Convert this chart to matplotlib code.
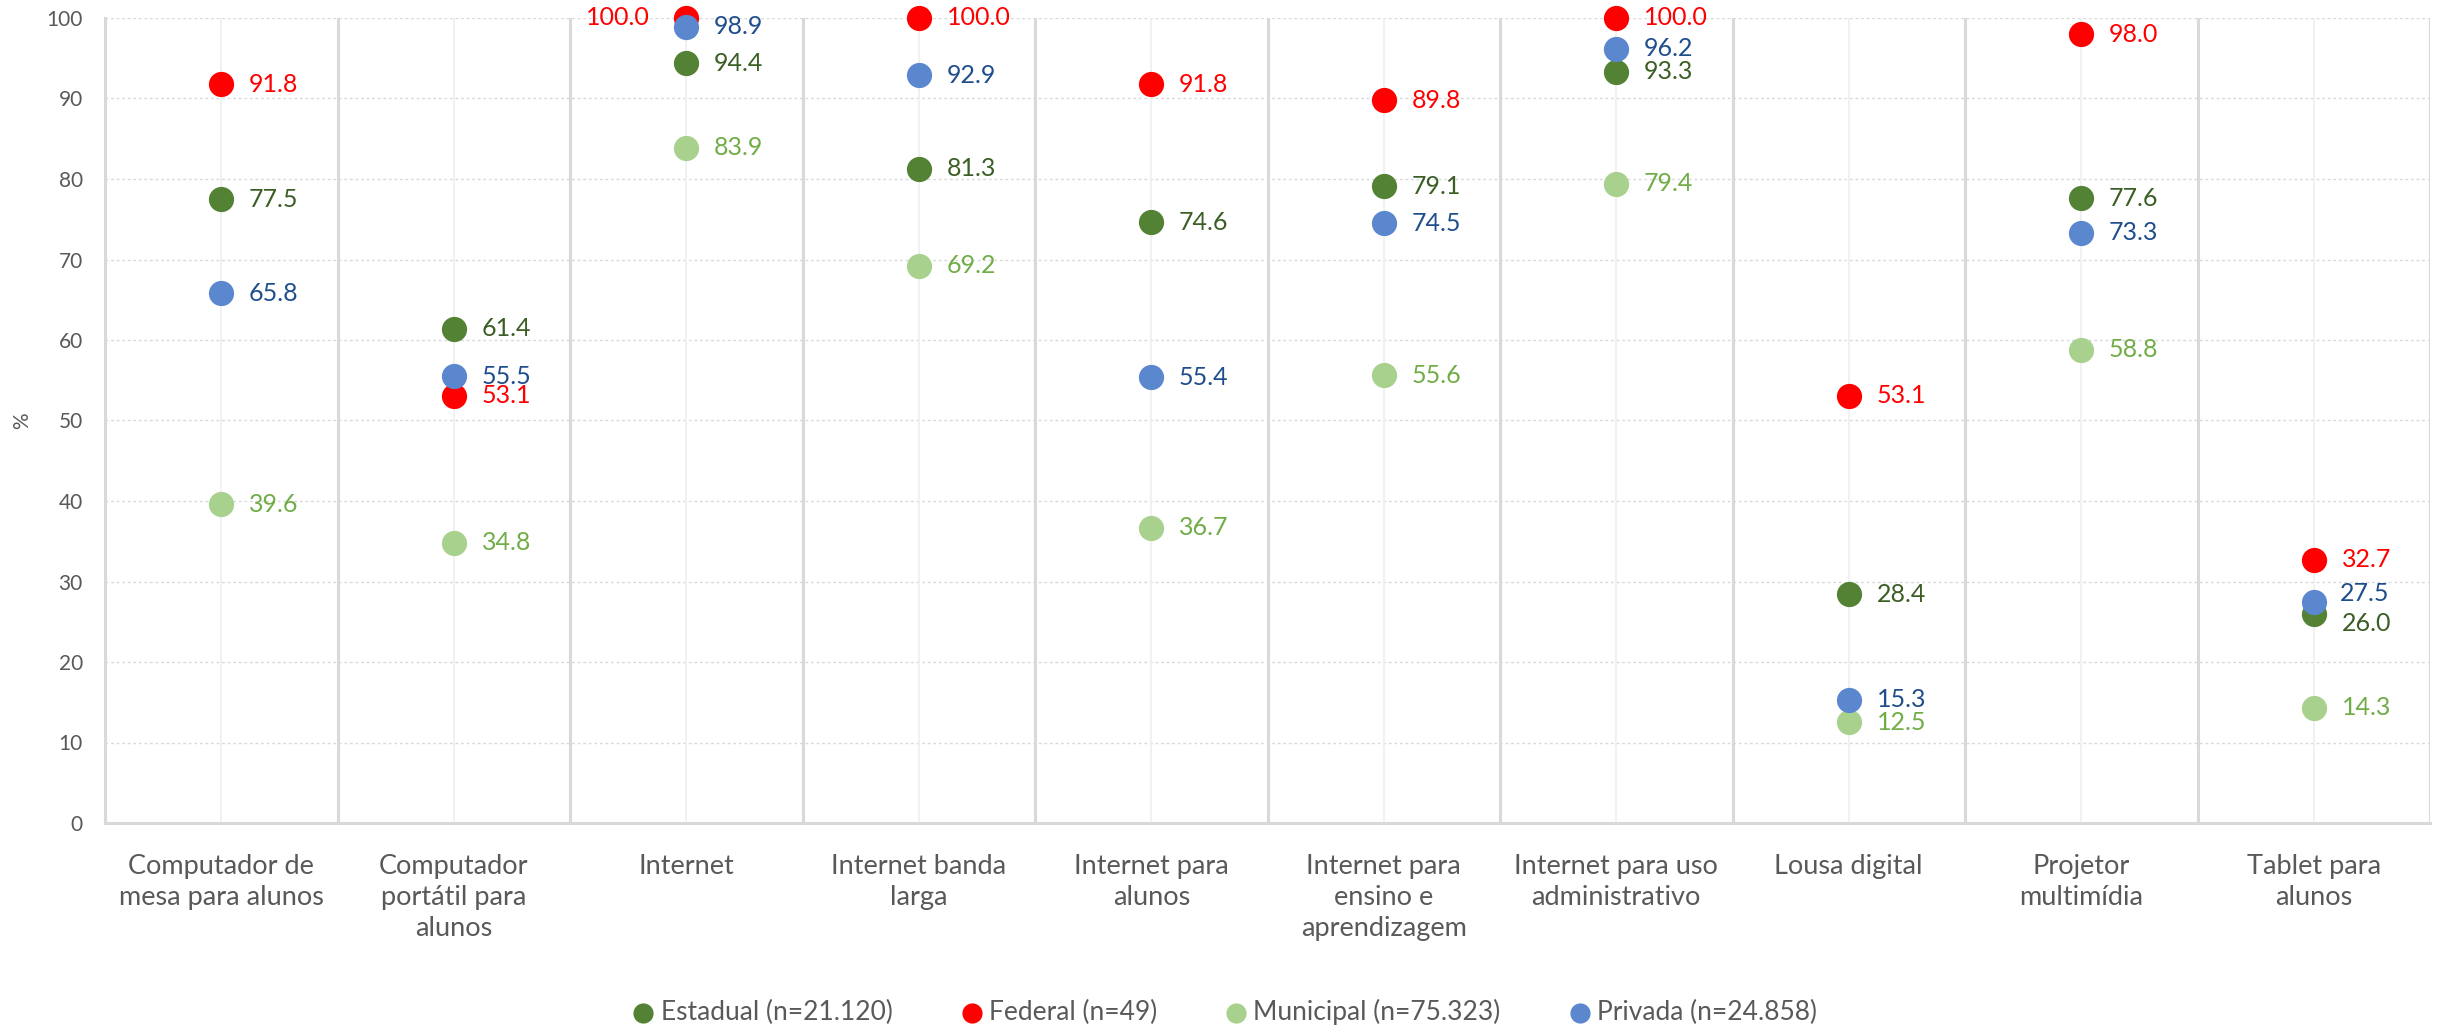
import matplotlib
matplotlib.use("Agg")
import matplotlib.pyplot as plt

plt.rcParams['font.family'] = ['Lato', 'DejaVu Sans']

# ── data ───────────────────────────────────────
categories = [
    "Computador de\nmesa para alunos",
    "Computador\nportátil para\nalunos",
    "Internet",
    "Internet banda\nlarga",
    "Internet para\nalunos",
    "Internet para\nensino e\naprendizagem",
    "Internet para uso\nadministrativo",
    "Lousa digital",
    "Projetor\nmultimídia",
    "Tablet para\nalunos",
]

estadual = [77.5, 61.4, 94.4, 81.3, 74.6, 79.1, 93.3, 28.4, 77.6, 26.0]
federal = [91.8, 53.1, 100.0, 100.0, 91.8, 89.8, 100.0, 53.1, 98.0, 32.7]
municipal = [39.6, 34.8, 83.9, 69.2, 36.7, 55.6, 79.4, 12.5, 58.8, 14.3]
privada = [65.8, 55.5, 98.9, 92.9, 55.4, 74.5, 96.2, 15.3, 73.3, 27.5]

series_names = ["Estadual (n=21.120)", "Federal (n=49)",
                "Municipal (n=75.323)", "Privada (n=24.858)"]
series_values = [estadual, federal, municipal, privada]
marker_colors = ["#548235", "#FF0000", "#A9D18E", "#5B87CF"]
label_colors = ["#3B5E25", "#FF0000", "#70AD47", "#1F4E8C"]

# label offsets (points) that differ from the default
default_offset = (20, 0)
special_offsets = {
    (2, 1): (-26, 0),   # Internet / Federal -> left side
    (9, 3): (19, 6),    # Tablet / Privada
    (9, 0): (20, -7),   # Tablet / Estadual
}

# ── figure ─────────────────────────────────────
fig = plt.figure(figsize=(24.4, 10.33), dpi=100)
ax = fig.add_axes([105 / 2440, 1 - 823 / 1033, (2430 - 105) / 2440, (823 - 18) / 1033])

n = len(categories)
x = list(range(n))

ax.set_xlim(-0.5, n - 0.5)
ax.set_ylim(0, 100)

# grid
for yv in range(10, 101, 10):
    ax.axhline(yv, color="#D9D9D9", lw=1.0, ls=(0, (2, 2)), zorder=0)
for xc in x:
    ax.axvline(xc, color="#EFEFEF", lw=1.2, zorder=0)
for k in range(n):
    ax.axvline(k + 0.5, color="#D9D9D9", lw=2.2, zorder=0.5)

for i, (name, vals) in enumerate(zip(series_names, series_values)):
    ax.scatter(x, vals, s=330, color=marker_colors[i], label=name,
               zorder=3 + i, clip_on=False, linewidths=0)
    for j, v in enumerate(vals):
        dx, dy = special_offsets.get((j, i), default_offset)
        ax.annotate(f"{v:.1f}", (j, v), xytext=(dx, dy), textcoords="offset points",
                    ha="left" if dx > 0 else "right", va="center",
                    fontsize=18, color=label_colors[i], zorder=10,
                    annotation_clip=False)

ax.set_xticks(x)
ax.set_xticklabels(categories, fontsize=19.5, color="#595959", linespacing=1.3, va="top")
ax.set_yticks(range(0, 101, 10))
ax.tick_params(axis="y", labelsize=15, colors="#595959", length=0, pad=16)
ax.tick_params(axis="x", length=0, pad=22)
ax.set_ylabel("%", fontsize=15, color="#595959", labelpad=10)

for side in ["top", "right"]:
    ax.spines[side].set_visible(False)
for side in ["left", "bottom"]:
    ax.spines[side].set_color("#D9D9D9")
    ax.spines[side].set_linewidth(2.2)

fig.legend(loc="lower center", bbox_to_anchor=(0.502, -0.015), ncol=4, frameon=False,
           fontsize=19, labelcolor="#595959", handletextpad=0.25, columnspacing=2.6,
           handlelength=0.8, markerscale=0.8)

plt.savefig("out.png", dpi=100)
